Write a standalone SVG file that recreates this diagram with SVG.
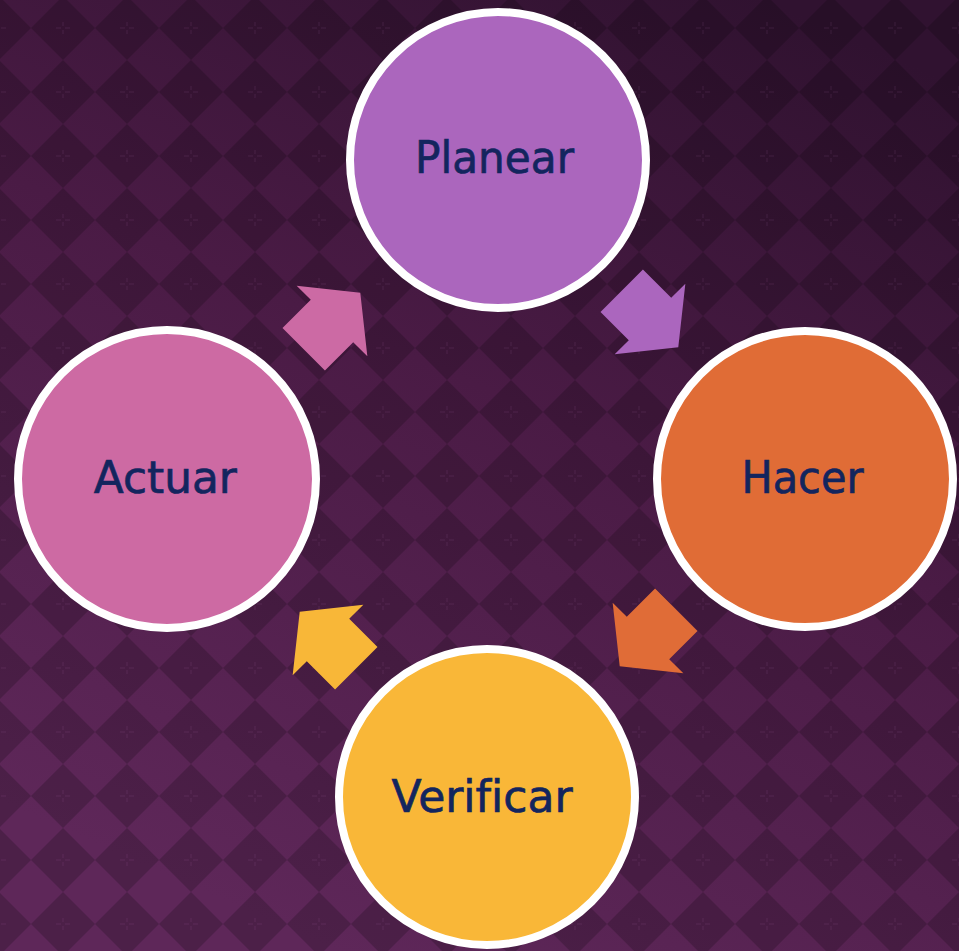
<svg xmlns="http://www.w3.org/2000/svg" width="959" height="951" viewBox="0 0 959 951">
  <defs>
    <linearGradient id="bgGrad" x1="0.8" y1="0" x2="0.35" y2="1">
      <stop offset="0" stop-color="#301230"/>
      <stop offset="0.45" stop-color="#4a1b45"/>
      <stop offset="1" stop-color="#5e2759"/>
    </linearGradient>
    <!-- harlequin tile: dark diamond with a faint cross at its centre -->
    <pattern id="diamonds" patternUnits="userSpaceOnUse" x="31" y="-4" width="64" height="64">
      <polygon points="32,0 64,32 32,64 0,32" fill="#000" fill-opacity="0.19"/>
      <g stroke="#b070b0" stroke-opacity="0.12" stroke-width="1.2">
        <line x1="25" y1="32" x2="30" y2="32"/>
        <line x1="34" y1="32" x2="39" y2="32"/>
        <line x1="32" y1="26" x2="32" y2="30"/>
        <line x1="32" y1="34" x2="32" y2="38"/>
      </g>
    </pattern>
    <!-- block arrow pointing along +x, centred at the head base -->
    <polygon id="blockArrow" points="-40,-30 0,-30 0,-50 40,0 0,50 0,30 -40,30"/>
    <style>
      .ring { stroke: #ffffff; stroke-width: 8; }
      .label { font-family: "DejaVu Sans", Verdana, sans-serif; font-size: 44px; fill: #13255e;
               stroke: #13255e; stroke-width: 0.7; text-anchor: middle; font-variant-ligatures: none; }
    </style>
  </defs>

  <rect width="959" height="951" fill="url(#bgGrad)"/>
  <rect width="959" height="951" fill="url(#diamonds)"/>

  <g id="connectors">
    <use href="#blockArrow" fill="#ab66be" transform="translate(650,319) rotate(45)"/>
    <use href="#blockArrow" fill="#e06c37" transform="translate(648,638) rotate(135)"/>
    <use href="#blockArrow" fill="#f8b738" transform="translate(328,640) rotate(-135)"/>
    <use href="#blockArrow" fill="#cc6aa4" transform="translate(332,321) rotate(-45)"/>
  </g>

  <g id="planear">
    <circle class="ring" cx="498" cy="160" r="148" fill="#ab66bd"/>
    <text class="label" x="494.5" y="173" textLength="159" lengthAdjust="spacingAndGlyphs">Planear</text>
  </g>
  <g id="hacer">
    <circle class="ring" cx="805" cy="479" r="148" fill="#e06c36"/>
    <text class="label" x="802.5" y="493" textLength="122" lengthAdjust="spacingAndGlyphs">Hacer</text>
  </g>
  <g id="verificar">
    <circle class="ring" cx="487" cy="797" r="148" fill="#f9b738"/>
    <text class="label" x="482" y="811.5" textLength="181" lengthAdjust="spacingAndGlyphs">Verificar</text>
  </g>
  <g id="actuar">
    <circle class="ring" cx="167" cy="479" r="149" fill="#cd6aa3"/>
    <text class="label" x="165.3" y="492.7" textLength="143" lengthAdjust="spacingAndGlyphs">Actuar</text>
  </g>
</svg>
